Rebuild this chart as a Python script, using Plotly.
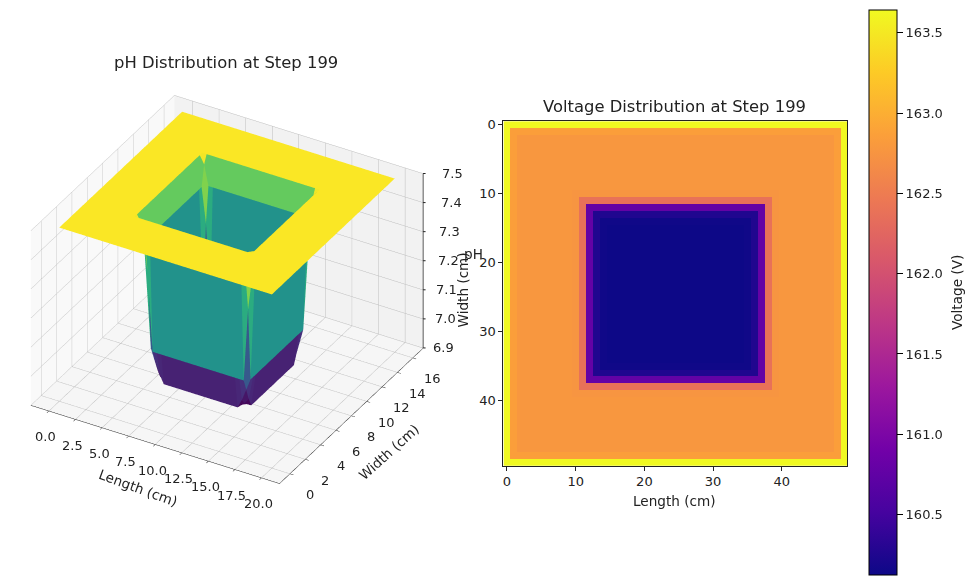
import numpy as np
import plotly.graph_objects as go
from plotly.colors import sample_colorscale

GRID = 50
length_cm = np.linspace(0, 20, GRID)
width_cm = np.linspace(0, 16, GRID)

# values read per concentric ring, outer edge -> centre
voltage_rings = [163.64, 162.85, 162.78, 162.78, 162.78, 162.78, 162.78, 162.78, 162.78, 162.78,
                 162.75, 162.38, 160.78, 160.25, 160.14, 160.12, 160.12, 160.12, 160.12, 160.12,
                 160.12, 160.12, 160.12, 160.12, 160.12]
ph_rings = [7.497, 7.497, 7.497, 7.497, 7.497, 7.497, 7.497, 7.497, 7.497, 7.497,
            7.497, 7.497, 7.40, 7.03, 6.92, 6.92, 6.92, 6.92, 6.92, 6.92,
            6.92, 6.92, 6.92, 6.92, 6.92]
ph_corner = {12: 7.47, 13: 7.28, 14: 6.99, 15: 6.93}
ph_rim = {14: 6.95}
rim_band_level = 7.36   # how the steep top band of the wall reads in the picture

voltage_ticks = [160.5, 161.0, 161.5, 162.0, 162.5, 163.0, 163.5]
x_ticks = [0, 2.5, 5, 7.5, 10, 12.5, 15, 17.5, 20]
x_tick_text = ["0.0", "2.5", "5.0", "7.5", "10.0", "12.5", "15.0", "17.5", "20.0"]
y_ticks = [0, 2, 4, 6, 8, 10, 12, 14, 16]
z_ticks = [6.9, 7.0, 7.1, 7.2, 7.3, 7.4, 7.5]

FONT = "DejaVu Sans"
W, H = 959, 570   # page has an 8 px body margin
def px(x): return (x - 8) / W
def py(y):
    y2 = (y - 3.8) / 0.994
    return 1 - (y2 - 8) / H

idx = np.arange(GRID)
I, J = np.meshgrid(idx, idx, indexing="ij")
ring = np.minimum.reduce([I, J, GRID - 1 - I, GRID - 1 - J])
voltage = np.array(voltage_rings)[ring]
ph = np.array(ph_rings)[ring]
for r, v in ph_corner.items():
    for a in (r, GRID - 1 - r):
        for b in (r, GRID - 1 - r):
            ph[a, b] = v
for r, v in ph_rim.items():
    for a in (r, GRID - 1 - r):
        for b in (r + 1, GRID - 2 - r):
            ph[a, b] = v
            ph[b, a] = v

X, Y = np.meshgrid(length_cm, width_cm, indexing="ij")
vid = (I * GRID + J)
a = vid[:-1, :-1].ravel(); b = vid[1:, :-1].ravel(); c = vid[1:, 1:].ravel(); d = vid[:-1, 1:].ravel()
zf = ph.ravel()
tri_i = np.concatenate([a, a]); tri_j = np.concatenate([b, c]); tri_k = np.concatenate([c, d])
mean1 = (zf[a] + zf[b] + zf[c] + zf[d]) / 4
level = np.concatenate([mean1, mean1])
level[(level > 7.42) & (level < 7.48)] = rim_band_level
zmin, zmax = 6.92, 7.5
norm = np.clip((level - zmin) / (zmax - zmin), 0, 1)
unique = np.unique(np.round(norm, 3))
cmap = dict(zip(unique.tolist(), sample_colorscale("Viridis", unique.tolist())))
facecolor = [cmap[v] for v in np.round(norm, 3).tolist()]

XMIN, XMAX, YMIN, YMAX, ZMIN, ZMAX = -1.7, 21.7, -1.35, 17.35, 6.9, 7.5

fig = go.Figure()
fig.add_trace(go.Mesh3d(
    x=X.ravel(), y=Y.ravel(), z=ph.ravel(), i=tri_i, j=tri_j, k=tri_k,
    facecolor=facecolor, flatshading=True, hoverinfo="skip",
    lighting=dict(ambient=1, diffuse=0, specular=0, roughness=1, fresnel=0),
))
fig.add_trace(go.Scatter3d(x=[XMAX, XMAX], y=[YMAX, YMAX], z=[ZMIN, ZMAX], mode="lines",
                           line=dict(color="#222", width=1.5), hoverinfo="skip", showlegend=False))
fig.add_trace(go.Heatmap(
    z=voltage, x=idx, y=idx, colorscale="Plasma", zmin=160.12, zmax=163.64,
    xaxis="x", yaxis="y",
    colorbar=dict(x=px(869), xanchor="left", xpad=0, y=py(293), yanchor="middle", ypad=0,
                  len=569.4 / H, lenmode="fraction", thickness=28, thicknessmode="pixels",
                  tickvals=voltage_ticks, ticktext=[f"{t:.1f}" for t in voltage_ticks],
                  ticks="outside", ticklen=6, tickcolor="black", outlinewidth=1, outlinecolor="black",
                  tickfont=dict(family=FONT, size=13, color="#222")),
))

def ax3(rng, tv, tt, bg, ticks=True):
    return dict(range=rng, tickvals=tv, ticktext=tt, ticks="outside" if ticks else "", ticklen=4,
                tickcolor="#222", tickangle=0, showticklabels=False,
                showbackground=True, backgroundcolor=bg, gridcolor="#bdbdbd", gridwidth=1,
                showline=ticks, linecolor="#222", linewidth=1, zeroline=False, showspikes=False,
                title=dict(text=""))

tf = dict(family=FONT, size=13, color="#222")
notes3d = []
for t, s in zip(x_ticks, x_tick_text):
    notes3d.append(dict(x=t, y=YMIN, z=ZMIN, text=s, showarrow=False, xshift=-3, yshift=-26, font=tf))
for t in y_ticks:
    notes3d.append(dict(x=XMAX, y=t, z=ZMIN, text=str(t), showarrow=False, xshift=20, yshift=-21, font=tf))
for n, t in enumerate(z_ticks):
    notes3d.append(dict(x=XMAX, y=YMAX, z=t, text=" ", showarrow=True, ax=6, ay=0, arrowhead=0,
                        arrowwidth=1, arrowcolor="#222"))
    notes3d.append(dict(x=XMAX, y=YMAX, z=t, text=f"{t:.1f}", showarrow=False, xanchor="left",
                        xshift=8 + 1.5 * n, font=tf))

r = 3.0
el, az = np.radians(33), np.radians(-60)
fig.update_layout(
    width=W, height=H, margin=dict(l=0, r=0, t=0, b=0), paper_bgcolor="white", plot_bgcolor="white",
    font=dict(family=FONT, color="#222"), showlegend=False,
    scene=dict(
        domain=dict(x=[0.0, 0.455], y=[0.02, 1.0]),
        xaxis=ax3([XMIN, XMAX], x_ticks, x_tick_text, "#f9f9f9"),
        yaxis=ax3([YMIN, YMAX], y_ticks, [str(t) for t in y_ticks], "#f2f2f2"),
        zaxis=ax3([ZMIN, ZMAX], z_ticks, [f"{t:.1f}" for t in z_ticks], "#f6f6f6", ticks=False),
        aspectmode="manual", aspectratio=dict(x=1.035, y=1.035, z=0.75),
        camera=dict(
            eye=dict(x=r * np.cos(el) * np.cos(az), y=r * np.cos(el) * np.sin(az), z=r * np.sin(el)),
            center=dict(x=0, y=0, z=0), up=dict(x=0, y=0, z=1),
            projection=dict(type="orthographic")),
        annotations=notes3d,
    ),
    xaxis=dict(domain=[px(503), px(847)], range=[-0.5, 49.5], tickvals=[0, 10, 20, 30, 40],
               ticks="outside", ticklen=4, tickcolor="#222", showgrid=False, zeroline=False,
               showline=True, mirror=True, linecolor="#222", linewidth=1, anchor="y", tickfont=tf),
    yaxis=dict(domain=[py(466), py(121)], range=[49.5, -0.5], tickvals=[0, 10, 20, 30, 40],
               ticks="outside", ticklen=4, tickcolor="#222", showgrid=False, zeroline=False,
               showline=True, mirror=True, linecolor="#222", linewidth=1, anchor="x", tickfont=tf),
)

def note(text, x, y, size=13.6, angle=0):
    fig.add_annotation(text=text, x=px(x), y=py(y), xref="paper", yref="paper", showarrow=False,
                       textangle=angle, xanchor="center", yanchor="middle",
                       font=dict(family=FONT, size=size, color="#222"))

note("pH Distribution at Step 199", 225, 62, 16.4)
note("Voltage Distribution at Step 199", 674, 106, 16.4)
note("Length (cm)", 674, 501)
note("Voltage (V)", 957, 293, 13.6, -90)
note("Length (cm)", 138, 488, 13.6, 20)
note("Width (cm)", 388, 452, 13.6, -42)
note("Width (cm)", 462, 290, 13.6, -90)
note("pH", 473, 254)

fig.write_html("out.html")
